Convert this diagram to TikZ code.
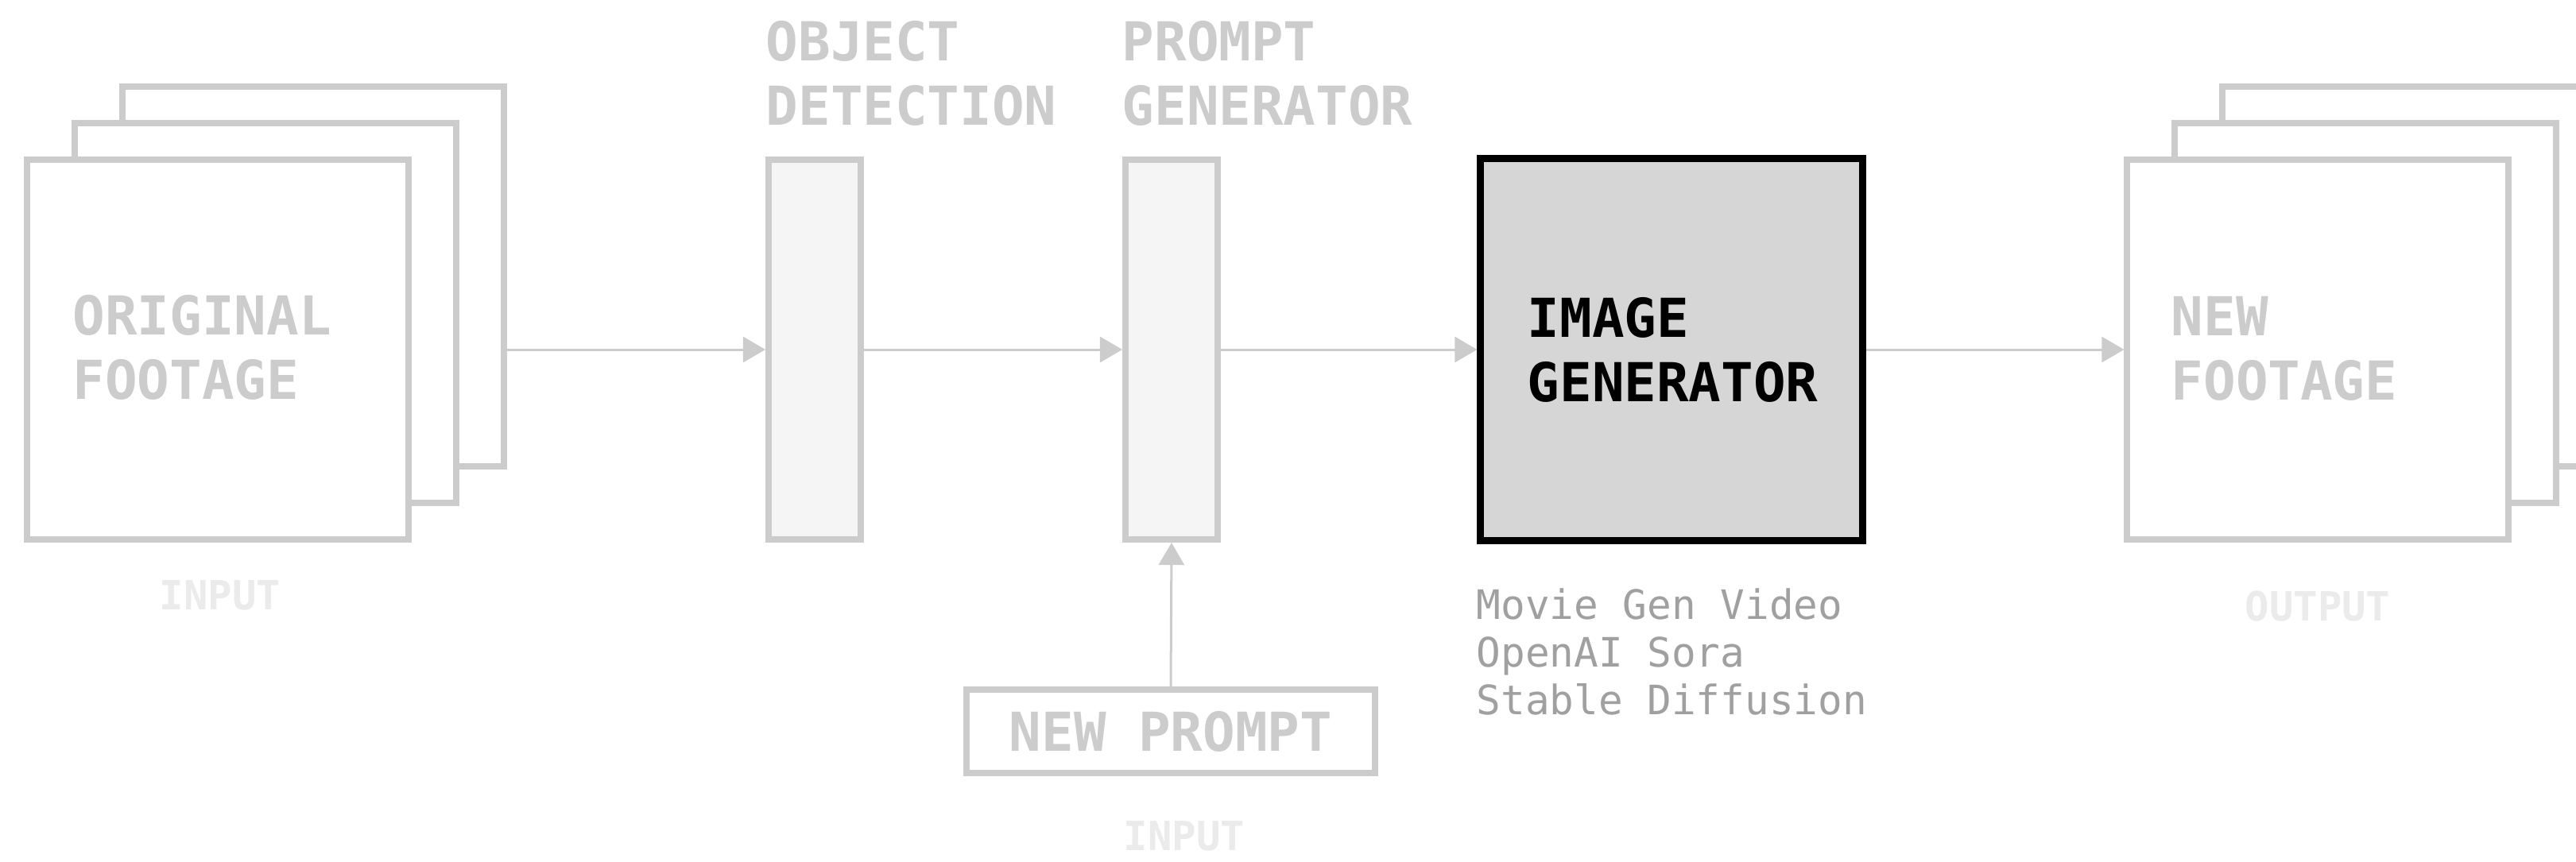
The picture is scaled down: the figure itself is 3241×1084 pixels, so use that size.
\documentclass[tikz,border=0pt]{standalone}
\usepackage{fontspec}
\setmonofont{DejaVu Sans Mono}
\usetikzlibrary{arrows.meta}
\definecolor{edge}{HTML}{CCCCCC}
\definecolor{faint}{HTML}{EBEBEB}
\definecolor{panel}{HTML}{F5F5F5}
\definecolor{core}{HTML}{D6D6D6}
\definecolor{note}{HTML}{A0A0A0}
\begin{document}
\begin{tikzpicture}[x=0.01cm,y=-0.01cm,
  frame/.style={draw=edge, line width=0.08cm, fill=white,
    minimum width=4.79cm, minimum height=4.78cm, inner sep=0},
  stage/.style={draw=edge, line width=0.08cm, fill=panel,
    minimum width=1.16cm, minimum height=4.78cm, inner sep=0},
  big/.style={font=\ttfamily\bfseries\fontsize{19.2pt}{23.05pt}\selectfont,
    align=left, inner sep=0},
  tag/.style={font=\ttfamily\bfseries\fontsize{14.4pt}{17pt}\selectfont,
    text=faint, inner sep=0},
  flow/.style={draw=edge, line width=0.03cm,
    -{Triangle[length=0.28cm,width=0.32cm]}}
]
\clip (0,0) rectangle (3241,1084);
\fill[white] (0,0) rectangle (3241,1084);

% input footage stack
\node[frame] (orig3) at (394,348) {};
\node[frame] (orig2) at (334,394) {};
\node[frame] (orig1) at (274,440) {};
\node[big, text=edge, anchor=north west] (origlbl) at (91,371) {ORIGINAL\\FOOTAGE};
\node[tag, anchor=north] (in1) at (277,730) {INPUT};

% object detection
\node[stage] (obj) at (1025,440) {};
\node[big, text=edge, anchor=north west] (objlbl) at (963,26) {OBJECT\\DETECTION};

% prompt generator
\node[stage] (pg) at (1474,440) {};
\node[big, text=edge, anchor=north west] (pglbl) at (1411,26) {PROMPT\\GENERATOR};

% new prompt input
\node[draw=edge, line width=0.08cm, fill=white, minimum width=5.14cm,
  minimum height=1.05cm, inner sep=0, text=edge,
  font=\ttfamily\bfseries\fontsize{19.2pt}{23pt}\selectfont] (newp) at (1473,920.5) {NEW PROMPT};
\node[tag, anchor=north] (in2) at (1490,1033) {INPUT};

% image generator
\node[draw=black, line width=0.09cm, fill=core, minimum width=4.8cm,
  minimum height=4.8cm, inner sep=0] (gen) at (2103,440) {};
\node[big, text=black, anchor=north west] (genlbl) at (1921,374) {IMAGE\\GENERATOR};
\node[anchor=north west, inner sep=0, align=left, text=note,
  font=\ttfamily\fontsize{14.5pt}{17.1pt}\selectfont] (models) at (1857,740)
  {Movie Gen Video\\OpenAI Sora\\Stable Diffusion};

% output footage stack
\node[frame] (new3) at (3036,348) {};
\node[frame] (new2) at (2976,394) {};
\node[frame] (new1) at (2916,440) {};
\node[big, text=edge, anchor=north west] (newlbl) at (2731,373) {NEW\\FOOTAGE};
\node[tag, anchor=north] (out) at (2916,743) {OUTPUT};

% connectors
\draw[flow] (orig3.east |- obj.west) -- (obj.west);
\draw[flow] (obj.east) -- (pg.west);
\draw[flow] (pg.east) -- (gen.west);
\draw[flow] (gen.east) -- (new1.west);
\draw[flow] (newp.north) -- (pg.south);
\end{tikzpicture}
\end{document}
